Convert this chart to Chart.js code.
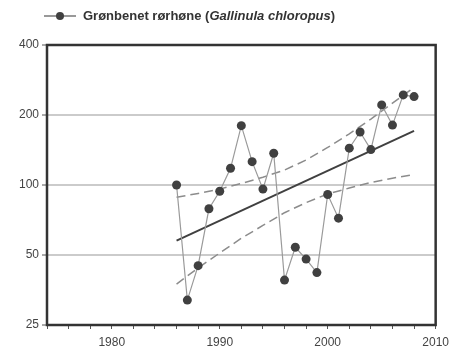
<!DOCTYPE html>
<html>
<head>
<meta charset="utf-8">
<script src="https://cdn.jsdelivr.net/npm/chart.js@4/dist/chart.umd.min.js"></script>
<style>
  body { margin: 0; background: #fff; }
  #wrap { position: relative; width: 455px; height: 354px; }
  #legend {
    position: absolute; left: 44px; top: 8px;
    font: bold 13px "Liberation Sans", Arial, sans-serif; color: #333;
    display: flex; align-items: center; white-space: nowrap;
  }
  #legend .mark { position: relative; width: 32px; height: 14px; margin-right: 7px; }
  #legend .mark::before {
    content: ""; position: absolute; left: 0; right: 0; top: 6px; height: 2px; background: #999;
  }
  #legend .mark::after {
    content: ""; position: absolute; left: 12px; top: 3px; width: 8px; height: 8px;
    border-radius: 50%; background: #404040;
  }
</style>
</head>
<body>
<div id="wrap">
  <canvas id="chart" width="455" height="354"></canvas>
  <div id="legend"><span class="mark"></span>Grønbenet rørhøne (<i>Gallinula chloropus</i>)</div>
</div>
<script>
// annual index, 1986-2008
const years = [1986, 1987, 1988, 1989, 1990, 1991, 1992, 1993, 1994, 1995, 1996, 1997,
               1998, 1999, 2000, 2001, 2002, 2003, 2004, 2005, 2006, 2007, 2008];
const counts = [100, 32, 45, 79, 94, 118, 180, 126, 96, 137, 39, 54,
                48, 42, 91, 72, 144, 169, 142, 221, 181, 244, 240];

// fitted trend and its confidence limits
const trendYears = [1986, 2008];
const trendValues = [57.6, 171];
const bandYears = [1986, 1988, 1990, 1992, 1994, 1996, 1998, 2000, 2002, 2004, 2006, 2008];
const upperBand = [88.5, 92, 96, 101.5, 108, 116, 128, 145, 166, 192, 225, 263];
const lowerBand = [37.5, 44, 51, 59, 67, 76, 84, 91.5, 97, 102.5, 107, 111];

const yTicks = [25, 50, 100, 200, 400];
const xLabels = [1980, 1990, 2000, 2010];

const pts = (xs, ys) => xs.map((x, i) => ({ x: x, y: ys[i] }));

const frame = {
  id: 'frame',
  afterDraw(chart) {
    const { ctx, chartArea: a } = chart;
    ctx.save();
    ctx.strokeStyle = '#333';
    ctx.lineWidth = 2.5;
    ctx.strokeRect(a.left, a.top, a.right - a.left, a.bottom - a.top);
    ctx.restore();
  }
};

const dashed = {
  borderColor: '#8c8c8c', borderWidth: 1.5, borderDash: [9, 5],
  pointRadius: 0, tension: 0, order: 2
};

new Chart(document.getElementById('chart'), {
  type: 'line',
  data: {
    datasets: [
      {
        data: pts(years, counts),
        borderColor: '#9a9a9a', borderWidth: 1.2,
        pointRadius: 4.5, pointBackgroundColor: '#404040', pointBorderColor: '#404040',
        pointBorderWidth: 0, tension: 0, order: 0
      },
      {
        data: pts(trendYears, trendValues),
        borderColor: '#404040', borderWidth: 2, pointRadius: 0, order: 1
      },
      Object.assign({ data: pts(bandYears, upperBand) }, dashed),
      Object.assign({ data: pts(bandYears, lowerBand) }, dashed)
    ]
  },
  options: {
    responsive: false,
    animation: false,
    layout: { padding: { top: 45, right: 18, left: 0, bottom: 0 } },
    plugins: { legend: { display: false }, tooltip: { enabled: false } },
    scales: {
      x: {
        type: 'linear', min: 1974, max: 2010,
        afterFit(s) { s.height = 29; },
        ticks: {
          stepSize: 2, autoSkip: false, maxRotation: 0, padding: 6,
          color: '#444', font: { family: 'Liberation Sans', size: 12 },
          callback: v => xLabels.includes(v) ? String(v) : ''
        },
        grid: { drawOnChartArea: false, tickLength: 4, color: '#555', lineWidth: 1 },
        border: { display: false }
      },
      y: {
        type: 'logarithmic', min: 25, max: 400,
        afterFit(s) { s.width = 47; },
        afterBuildTicks(s) { s.ticks = yTicks.map(v => ({ value: v })); },
        ticks: {
          padding: 3, color: '#444', font: { family: 'Liberation Sans', size: 12 },
          callback: v => String(v)
        },
        grid: { color: '#cbcbcb', lineWidth: 2, tickLength: 5, tickColor: '#555', tickWidth: 1 },
        border: { display: false }
      }
    }
  },
  plugins: [frame]
});
</script>
</body>
</html>
